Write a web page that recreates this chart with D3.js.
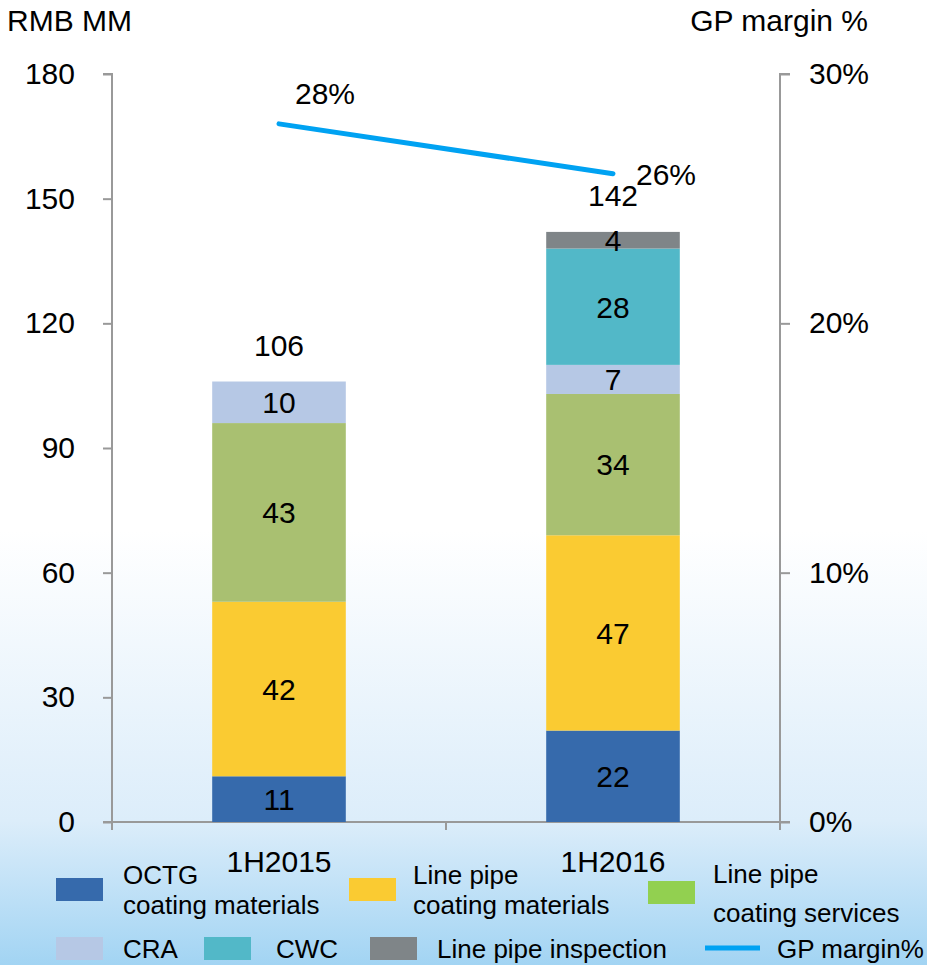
<!DOCTYPE html>
<html>
<head>
<meta charset="utf-8">
<script src="https://cdn.jsdelivr.net/npm/d3@7"></script>
<style>
  html, body { margin: 0; padding: 0; background: #ffffff; }
  svg { display: block; font-family: "Liberation Sans", Arial, sans-serif; }
</style>
</head>
<body>
<svg id="chart" width="927" height="965"></svg>
<script>
// Revenue by product line (RMB MM) and gross-profit margin per half-year
const categories = ["1H2015", "1H2016"];
const seriesNames = [
  "OCTG coating materials",
  "Line pipe coating materials",
  "Line pipe coating services",
  "CRA",
  "CWC",
  "Line pipe inspection"
];
const octg = [11, 22];
const linePipeMaterials = [42, 47];
const linePipeServices = [43, 34];
const cra = [10, 7];
const cwc = [0, 28];
const inspection = [0, 4];
const totals = [106, 142];
const gpMargin = [0.28, 0.26];
const leftTicks = [0, 30, 60, 90, 120, 150, 180];
const rightTicks = [0, 0.1, 0.2, 0.3];

const seriesValues = [octg, linePipeMaterials, linePipeServices, cra, cwc, inspection];
const barColors = ["#366aac", "#facb32", "#a9c071", "#b6c8e5", "#52b8c8", "#7f8588"];
const legendColors = ["#366aac", "#facb32", "#92d050", "#b6c8e5", "#52b8c8", "#7f8588"];
const lineColor = "#00a2f2";
const axisColor = "#999999";

const svg = d3.select("#chart");

// background wash: white fading into light blue toward the bottom
const defs = svg.append("defs");
const grad = defs.append("linearGradient")
  .attr("id", "bg").attr("x1", 0).attr("y1", 0).attr("x2", 0).attr("y2", 1);
grad.append("stop").attr("offset", 0).attr("stop-color", "#ffffff");
grad.append("stop").attr("offset", 0.55).attr("stop-color", "#ffffff");
grad.append("stop").attr("offset", 0.85).attr("stop-color", "#dcedfa");
grad.append("stop").attr("offset", 1).attr("stop-color", "#a2d4f3");
svg.append("rect").attr("width", 927).attr("height", 965).attr("fill", "url(#bg)");

const plotLeft = 112, plotRight = 780, plotTop = 74, plotBottom = 822;

const x = d3.scaleBand().domain(categories).range([plotLeft, plotRight]).padding(0);
const barW = x.bandwidth() * 0.4;
const y = d3.scaleLinear().domain([0, 180]).range([plotBottom, plotTop]);
const y2 = d3.scaleLinear().domain([0, 0.3]).range([plotBottom, plotTop]);

// stacked data
const table = categories.map((c, i) => {
  const row = { cat: c };
  seriesNames.forEach((s, k) => { row[s] = seriesValues[k][i]; });
  return row;
});
const stacked = d3.stack().keys(seriesNames)(table);

// axes
const leftAxis = d3.axisLeft(y).tickValues(leftTicks).tickSize(9).tickPadding(28);
const rightAxis = d3.axisRight(y2).tickValues(rightTicks).tickSize(10).tickPadding(19)
  .tickFormat(d3.format(".0%"));

function styleAxis(g) {
  g.selectAll(".domain").attr("stroke", axisColor).attr("stroke-width", 2);
  g.selectAll(".tick line").attr("stroke", axisColor).attr("stroke-width", 2);
  g.selectAll(".tick text").attr("fill", "#000").attr("font-size", 30)
    .attr("font-family", "Liberation Sans, Arial, sans-serif");
}

svg.append("g").attr("transform", `translate(${plotLeft},0)`).call(leftAxis)
  .call(g => g.select(".domain").attr("d", `M-9,${plotTop}H0V${plotBottom}`)).call(styleAxis);
svg.append("g").attr("transform", `translate(${plotRight},0)`).call(rightAxis)
  .call(g => g.select(".domain").attr("d", `M10,${plotTop}H0V${plotBottom}`)).call(styleAxis);

// category axis with ticks at band boundaries
const xAxisG = svg.append("g");
xAxisG.append("line").attr("x1", plotLeft - 9).attr("x2", plotRight + 10)
  .attr("y1", plotBottom).attr("y2", plotBottom)
  .attr("stroke", axisColor).attr("stroke-width", 2);
const boundaries = categories.map(c => x(c)).concat([x(categories[categories.length - 1]) + x.bandwidth()]);
xAxisG.selectAll("line.tk").data(boundaries).join("line").attr("class", "tk")
  .attr("x1", d => d).attr("x2", d => d).attr("y1", plotBottom).attr("y2", plotBottom + 8)
  .attr("stroke", axisColor).attr("stroke-width", 2);
xAxisG.selectAll("text").data(categories).join("text")
  .attr("x", d => x(d) + x.bandwidth() / 2).attr("y", 872)
  .attr("text-anchor", "middle").attr("font-size", 30).text(d => d);

// bars
const layers = svg.append("g").selectAll("g").data(stacked).join("g")
  .attr("fill", (d, i) => barColors[i]);
layers.selectAll("rect").data(d => d.filter(p => p[1] - p[0] > 0)).join("rect")
  .attr("x", d => x(d.data.cat) + (x.bandwidth() - barW) / 2)
  .attr("width", barW)
  .attr("y", d => y(d[1]))
  .attr("height", d => y(d[0]) - y(d[1]));

// segment value labels
const segLabels = svg.append("g");
stacked.forEach(layer => {
  layer.forEach(p => {
    const v = p[1] - p[0];
    if (v <= 0) return;
    segLabels.append("text")
      .attr("x", x(p.data.cat) + x.bandwidth() / 2)
      .attr("y", (y(p[0]) + y(p[1])) / 2)
      .attr("dy", "0.36em")
      .attr("text-anchor", "middle").attr("font-size", 30).attr("fill", "#000")
      .text(v);
  });
});

// totals above bars
svg.append("g").selectAll("text").data(totals).join("text")
  .attr("x", (d, i) => x(categories[i]) + x.bandwidth() / 2)
  .attr("y", d => y(d) - 26)
  .attr("text-anchor", "middle").attr("font-size", 30).text(d => d);

// GP margin line
const pts = categories.map((c, i) => [x(c) + x.bandwidth() / 2, y2(gpMargin[i])]);
svg.append("path").attr("d", d3.line()(pts))
  .attr("fill", "none").attr("stroke", lineColor).attr("stroke-width", 5)
  .attr("stroke-linecap", "round");
const marginFmt = d3.format(".0%");
svg.append("text").attr("x", pts[0][0] + 16).attr("y", pts[0][1] - 20)
  .attr("font-size", 30).text(marginFmt(gpMargin[0]));
svg.append("text").attr("x", pts[1][0] + 23).attr("y", pts[1][1] + 11)
  .attr("font-size", 30).text(marginFmt(gpMargin[1]));

// axis titles
svg.append("text").attr("x", 7).attr("y", 31).attr("font-size", 30).text("RMB MM");
svg.append("text").attr("x", 868).attr("y", 31).attr("text-anchor", "end")
  .attr("font-size", 30).text("GP margin %");

// legend
const legend = svg.append("g").attr("font-size", 26).attr("fill", "#000");
const legendItems = [
  { sx: 56, sy: 878, lines: ["OCTG", "coating materials"], tx: 123, ty: [884, 914] },
  { sx: 349, sy: 878, lines: ["Line pipe", "coating materials"], tx: 413, ty: [884, 914] },
  { sx: 648, sy: 881, lines: ["Line pipe", "coating services"], tx: 713, ty: [883, 922] },
  { sx: 56, sy: 937, lines: ["CRA"], tx: 123, ty: [958] },
  { sx: 204, sy: 937, lines: ["CWC"], tx: 276, ty: [958] },
  { sx: 370, sy: 937, lines: ["Line pipe inspection"], tx: 437, ty: [958] }
];
legendItems.forEach((it, i) => {
  legend.append("rect").attr("x", it.sx).attr("y", it.sy).attr("width", 47).attr("height", 23)
    .attr("fill", legendColors[i]);
  it.lines.forEach((t, j) => {
    legend.append("text").attr("x", it.tx).attr("y", it.ty[j]).text(t);
  });
});
legend.append("line").attr("x1", 705).attr("x2", 760).attr("y1", 948).attr("y2", 948)
  .attr("stroke", lineColor).attr("stroke-width", 5);
legend.append("text").attr("x", 777).attr("y", 958).text("GP margin%");
</script>
</body>
</html>
